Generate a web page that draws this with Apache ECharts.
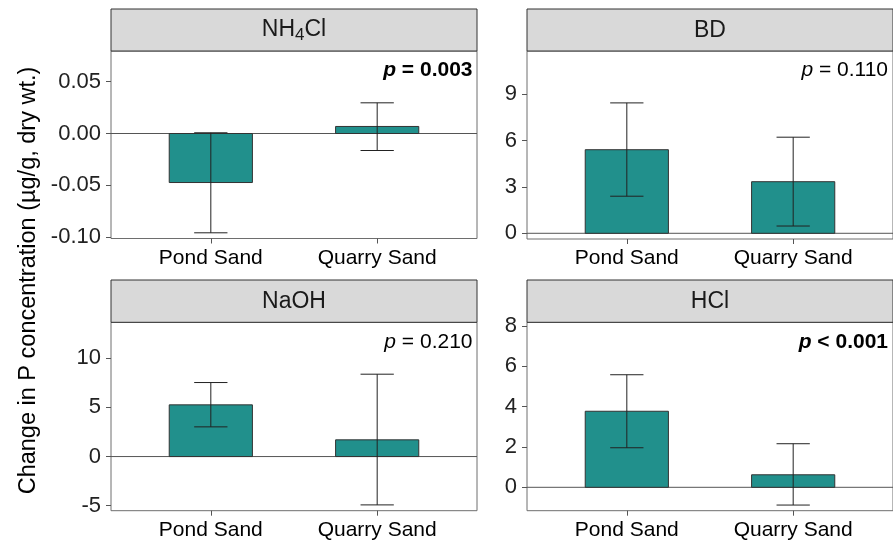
<!DOCTYPE html>
<html>
<head>
<meta charset="utf-8">
<script src="https://cdn.jsdelivr.net/npm/echarts@6/dist/echarts.min.js"></script>
<style>
html,body{margin:0;padding:0;background:#fff;}
#chart{width:893px;height:542px;}
</style>
</head>
<body>
<div id="chart"></div>
<script>
// ---- data ----
const categories = ['Pond Sand', 'Quarry Sand'];
const panelNames = ['NH4Cl', 'BD', 'NaOH', 'HCl'];
const pText = ['= 0.003', '= 0.110', '= 0.210', '< 0.001'];
const pBold = [true, false, false, true];

const nh4clMean = [-0.0473, 0.0068];
const nh4clLow  = [-0.0958, -0.0164];
const nh4clHigh = [0.0007, 0.0296];

const bdMean = [5.41, 3.34];
const bdLow  = [2.40, 0.47];
const bdHigh = [8.44, 6.22];

const naohMean = [5.26, 1.70];
const naohLow  = [3.02, -4.92];
const naohHigh = [7.53, 8.38];

const hclMean = [3.77, 0.62];
const hclLow  = [1.96, -0.88];
const hclHigh = [5.58, 2.16];

const nh4clTicks = [-0.10, -0.05, 0, 0.05];
const bdTicks = [0, 3, 6, 9];
const naohTicks = [-5, 0, 5, 10];
const hclTicks = [0, 2, 4, 6, 8];

const yRanges = [[-0.1013, 0.0796], [-0.37, 11.8], [-5.51, 13.66], [-1.16, 8.18]];
const yTickSets = [nh4clTicks, bdTicks, naohTicks, hclTicks];
const means = [nh4clMean, bdMean, naohMean, hclMean];
const lows = [nh4clLow, bdLow, naohLow, hclLow];
const highs = [nh4clHigh, bdHigh, naohHigh, hclHigh];

// ---- layout ----
const FONT = '"Liberation Sans", Arial, sans-serif';
const panelBoxes = [
  {left: 111, stripTop: 9, top: 51, width: 366, height: 187.5},
  {left: 527, stripTop: 9, top: 51, width: 366, height: 188},
  {left: 111, stripTop: 280, top: 322.3, width: 366, height: 188.4},
  {left: 527, stripTop: 280, top: 322.3, width: 366, height: 188.4}
];

const grids = [], xAxes = [], yAxes = [], series = [], graphics = [];

panelBoxes.forEach((b, i) => {
  grids.push({left: b.left, top: b.top, width: b.width, height: b.height,
    show: true, borderColor: '#6e6e6e', borderWidth: 1, backgroundColor: 'transparent', containLabel: false});
  xAxes.push({
    type: 'value', gridIndex: i, min: 0.4, max: 2.6, position: 'bottom',
    axisLine: {show: false, onZero: false},
    splitLine: {show: false},
    axisTick: {show: true, length: 5, lineStyle: {color: '#555'}, customValues: [1, 2]},
    axisLabel: {show: true, margin: 9, fontSize: 21, fontFamily: FONT, color: '#000',
      customValues: [1, 2], formatter: v => categories[Math.round(v) - 1]}
  });
  yAxes.push({
    type: 'value', gridIndex: i, min: yRanges[i][0], max: yRanges[i][1], position: 'left',
    axisLine: {show: false, onZero: false},
    splitLine: {show: false},
    axisTick: {show: true, length: 5, lineStyle: {color: '#555'}, customValues: yTickSets[i]},
    axisLabel: {show: true, margin: 10, fontSize: 22, fontFamily: FONT, color: '#222',
      customValues: yTickSets[i],
      formatter: v => i === 0 ? v.toFixed(2) : String(Math.round(v))}
  });
  const data = categories.map((c, k) => [k + 1, means[i][k], lows[i][k], highs[i][k]]);
  // zero reference line
  series.push({
    type: 'custom', xAxisIndex: i, yAxisIndex: i, data: [[0.4, 0]], z: 1, silent: true,
    renderItem: (params, api) => {
      const a = api.coord([0.4, 0]), c = api.coord([2.6, 0]);
      return {type: 'line', shape: {x1: a[0], y1: a[1], x2: c[0], y2: c[1]},
        style: {stroke: '#555', lineWidth: 1}};
    }
  });
  // bars
  series.push({
    type: 'custom', xAxisIndex: i, yAxisIndex: i, data: data, z: 2, silent: true,
    renderItem: (params, api) => {
      const x = api.value(0), y = api.value(1);
      const p0 = api.coord([x - 0.25, 0]), p1 = api.coord([x + 0.25, y]);
      return {type: 'rect',
        shape: {x: p0[0], y: Math.min(p0[1], p1[1]), width: p1[0] - p0[0], height: Math.abs(p1[1] - p0[1])},
        style: {fill: '#21908C', stroke: '#333', lineWidth: 1}};
    }
  });
  // error bars
  series.push({
    type: 'custom', xAxisIndex: i, yAxisIndex: i, data: data, z: 3, silent: true,
    renderItem: (params, api) => {
      const x = api.value(0), lo = api.value(2), hi = api.value(3);
      const a = api.coord([x, lo]), c = api.coord([x, hi]);
      const l = api.coord([x - 0.1, lo]), r = api.coord([x + 0.1, lo]);
      const lt = api.coord([x - 0.1, hi]), rt = api.coord([x + 0.1, hi]);
      const st = {stroke: '#222', lineWidth: 1};
      return {type: 'group', children: [
        {type: 'line', shape: {x1: a[0], y1: a[1], x2: c[0], y2: c[1]}, style: st},
        {type: 'line', shape: {x1: l[0], y1: l[1], x2: r[0], y2: r[1]}, style: st},
        {type: 'line', shape: {x1: lt[0], y1: lt[1], x2: rt[0], y2: rt[1]}, style: st}
      ]};
    }
  });
  // strip
  graphics.push({type: 'rect', shape: {x: b.left, y: b.stripTop, width: b.width, height: b.top - b.stripTop},
    style: {fill: '#d9d9d9', stroke: '#333', lineWidth: 1}, z: 10});
  const name = panelNames[i];
  const isSub = name === 'NH4Cl';
  const stripText = isSub ? '{a|NH}{s|4}{a|Cl}' : '{a|' + name + '}';
  graphics.push({type: 'text', x: b.left + b.width / 2, y: (b.stripTop + b.top) / 2 + (isSub ? -0.5 : 1), z: 11,
    style: {text: stripText, align: 'center', verticalAlign: 'middle',
      rich: {a: {fontSize: 23, fontFamily: FONT, fill: '#1a1a1a', lineHeight: 28},
             s: {fontSize: 17, fontFamily: FONT, fill: '#1a1a1a', padding: [11, 0, 0, 0], lineHeight: 17}}}});
  // p value
  const w = pBold[i] ? 'bold' : 'normal';
  graphics.push({type: 'text', x: (i % 2 === 0) ? 472.5 : 888, y: b.top + 19.5, z: 11,
    style: {text: '{i|p}{n| ' + pText[i] + '}', align: 'right', verticalAlign: 'middle',
      rich: {i: {fontSize: 21, fontFamily: FONT, fontStyle: 'italic', fontWeight: w, fill: '#000'},
             n: {fontSize: 21, fontFamily: FONT, fontWeight: w, fill: '#000'}}}});
});

// y axis title
graphics.push({type: 'text', x: 29, y: 280.5, rotation: Math.PI / 2, z: 11,
  style: {text: 'Change in P concentration (µg/g, dry wt.)', align: 'center', verticalAlign: 'middle',
    fontSize: 23.5, fontFamily: FONT, fill: '#000'}});

const chart = echarts.init(document.getElementById('chart'), null, {renderer: 'canvas'});
chart.setOption({
  animation: false,
  backgroundColor: '#fff',
  grid: grids,
  xAxis: xAxes,
  yAxis: yAxes,
  series: series,
  graphic: graphics
});
</script>
</body>
</html>
